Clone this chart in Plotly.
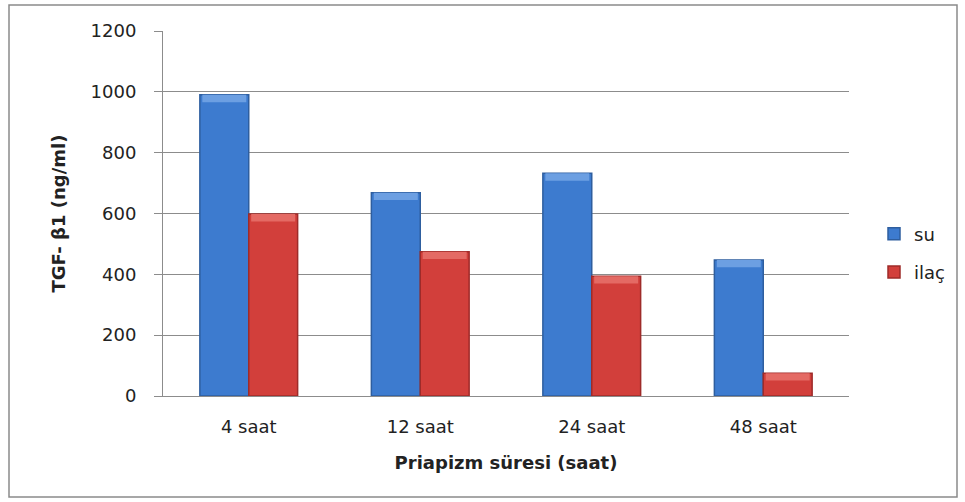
import plotly.graph_objects as go

# Data
categories = ["4 saat", "12 saat", "24 saat", "48 saat"]
su_values = [990, 668, 732, 447]
ilac_values = [598, 474, 394, 75]
y_ticks = [0, 200, 400, 600, 800, 1000, 1200]

W, H = 965, 502
L, R, T, B = 163, 116, 31, 106
plot_w = W - L - R
plot_h = H - T - B

FONT = "DejaVu Sans, sans-serif"
FS = 18

BAR_W = 0.285          # bar width in category units
BEVEL = 24             # height of the lighter top facet, in data units

series = [
    dict(name="su", vals=su_values, offset=-BAR_W, fill="#3D7BCF", edge="#2E5E9F", top="#6C9FE2"),
    dict(name="ilaç", vals=ilac_values, offset=0.0, fill="#D23F3B", edge="#9E2B29", top="#E46A64"),
]

fig = go.Figure()
for s in series:
    fig.add_trace(go.Bar(
        x=categories, y=s["vals"], name=s["name"], legendgroup=s["name"],
        width=BAR_W, offset=s["offset"],
        marker=dict(color=s["fill"], line=dict(color=s["edge"], width=1.5)),
    ))
for s in series:
    # lighter top facet for a bevelled look
    fig.add_trace(go.Bar(
        x=categories, y=[BEVEL] * len(s["vals"]),
        base=[v - BEVEL for v in s["vals"]],
        width=BAR_W * 0.9, offset=s["offset"] + BAR_W * 0.05,
        marker=dict(color=s["top"], line=dict(width=0)),
        showlegend=False, hoverinfo="skip",
    ))

# Outer chart frame (pixel positions converted to paper coordinates)
def px_x(p):
    return (p - L) / plot_w

def px_y(p):
    return (H - B - p) / plot_h

fig.add_shape(type="rect", xref="paper", yref="paper",
              x0=px_x(9), x1=px_x(957), y0=px_y(497), y1=px_y(5),
              line=dict(color="#8A8A8A", width=1.5), layer="below")

fig.update_layout(
    width=W, height=H,
    margin=dict(l=L, r=R, t=T, b=B),
    paper_bgcolor="white", plot_bgcolor="white",
    barmode="overlay",
    font=dict(family=FONT, size=FS, color="#222222"),
    legend=dict(x=px_x(874), y=px_y(253), xanchor="left", yanchor="middle",
                font=dict(size=FS), tracegroupgap=12,
                itemwidth=30, bgcolor="rgba(0,0,0,0)"),
    showlegend=True,
    xaxis=dict(
        showline=True, linecolor="#8C8C8C", linewidth=1,
        ticks="", tickfont=dict(size=FS), ticklabelstandoff=14,
        title=dict(text="<b>Priapizm süresi (saat)</b>", font=dict(size=FS), standoff=20),
    ),
    yaxis=dict(
        range=[0, 1200], tickvals=y_ticks,
        showgrid=True, gridcolor="#8C8C8C", gridwidth=1,
        showline=True, linecolor="#8C8C8C", linewidth=1,
        ticks="outside", ticklen=8, tickcolor="#8C8C8C",
        tickfont=dict(size=FS), zeroline=False, ticklabelstandoff=14,
        title=dict(text="<b>TGF- β1 (ng/ml)</b>", font=dict(size=FS), standoff=20),
    ),
)

fig.write_html("out.html")
